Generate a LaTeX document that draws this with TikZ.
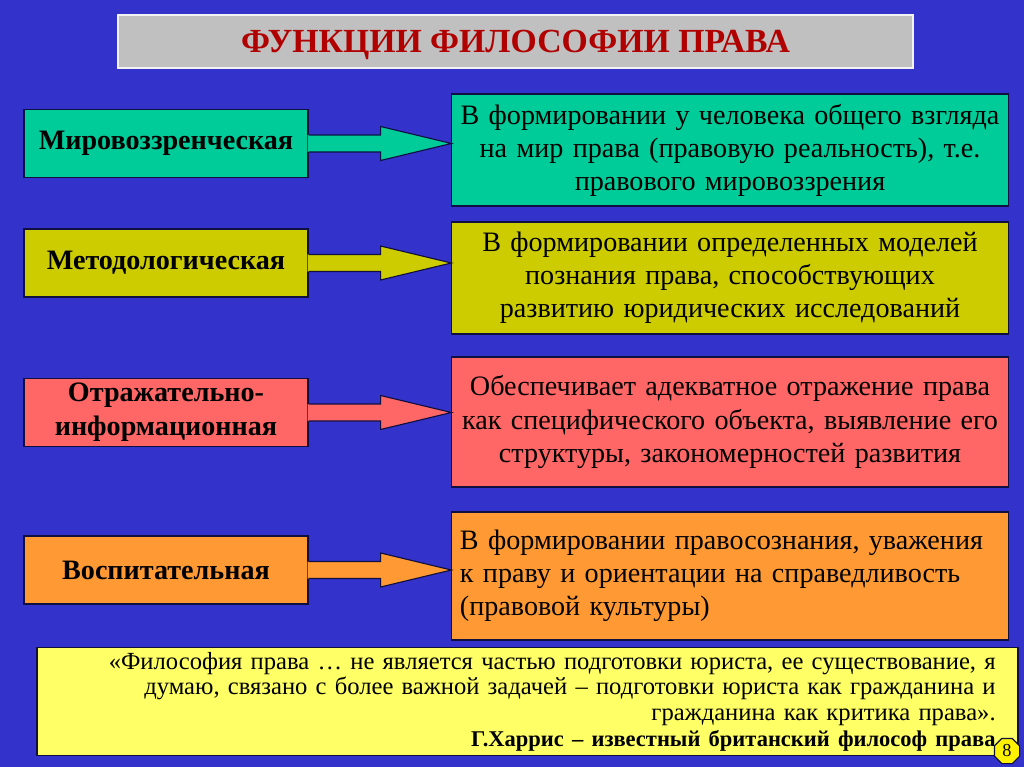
\documentclass[tikz,border=0pt]{standalone}
\usepackage{fontspec}
\setmainfont{Liberation Serif}
\usepackage{tikz}
\usetikzlibrary{calc,shapes.geometric}

\definecolor{bgblue}{HTML}{3333CC}
\definecolor{titlegray}{HTML}{C0C0C0}
\definecolor{titlered}{HTML}{B00000}
\definecolor{functeal}{HTML}{00CC99}
\definecolor{funcolive}{HTML}{CCCC00}
\definecolor{funcpink}{HTML}{FF6666}
\definecolor{funcorange}{HTML}{FF9933}
\definecolor{quoteyellow}{HTML}{FFFF66}
\definecolor{edgedark}{HTML}{101040}

\tikzset{
  funcbox/.style={draw=edgedark, line width=0.8pt, minimum width=7.1cm, minimum height=1.7cm,
    inner sep=2pt, align=center, font=\fontsize{20}{24}\selectfont\bfseries},
  descbox/.style={draw=edgedark, line width=0.8pt, minimum width=13.9cm, text width=13.5cm,
    inner xsep=0.2cm, align=center, font=\fontsize{20}{23.5}\selectfont},
  blockarrow/.style={draw=edgedark, line width=0.8pt, line join=miter}
}

% block arrow from a function box to its description
\newcommand{\funcarrow}[3]{%
  \fill[#3] ($(#1.east)+(-1,-8.5)$) -- ++(73,0) -- ++(0,-8.5) -- (#1.east -| #2.west)
    -- ($(#1.east)+(72,17)$) -- ++(0,-8.5) -- ($(#1.east)+(-1,8.5)$) -- cycle;
  \draw[blockarrow] ($(#1.east)+(0,-8.5)$) -- ++(72,0) -- ++(0,-8.5) -- (#1.east -| #2.west)
    -- ($(#1.east)+(72,17)$) -- ++(0,-8.5) -- ($(#1.east)+(0,8.5)$);}

\begin{document}
\begin{tikzpicture}[x=0.025cm, y=-0.025cm]
  \fill[bgblue] (0,0) rectangle (1024,767);
  \useasboundingbox (0,0) rectangle (1024,767);

  \node[fill=titlegray, draw=white!80!titlegray, line width=1.2pt, minimum width=19.875cm,
    minimum height=1.325cm, text depth=0pt, text=titlered, font=\fontsize{24}{28}\selectfont\bfseries]
    (title) at (515.5,41.5) {ФУНКЦИИ ФИЛОСОФИИ ПРАВА};

  % functions
  \node[funcbox, fill=functeal] (m1) at (166,143.5) {Мировоззренческая};
  \node[funcbox, fill=funcolive] (m2) at (166,263) {Методологическая};
  \node[funcbox, fill=funcpink] (m3) at (166,412.5) {Отражательно-\\информационная};
  \node[funcbox, fill=funcorange] (m4) at (166,570) {Воспитательная};

  % descriptions
  \node[descbox, fill=functeal, minimum height=2.8cm] (d1) at (730,150)
    {В формировании у человека общего взгляда\\на мир права (правовую реальность), т.е.\\правового мировоззрения};
  \node[descbox, fill=funcolive, minimum height=2.8cm] (d2) at (730,278)
    {В формировании определенных моделей\\познания права, способствующих\\развитию юридических исследований};
  \node[descbox, fill=funcpink, minimum height=3.25cm] (d3) at (730,422)
    {Обеспечивает адекватное отражение права\\как специфического объекта, выявление его\\структуры, закономерностей развития};
  \node[descbox, fill=funcorange, minimum height=3.2cm, align=left] (d4) at (730,576)
    {В формировании правосознания, уважения\\к праву и ориентации на справедливость\\(правовой культуры)};

  \funcarrow{m1}{d1}{functeal}
  \funcarrow{m2}{d2}{funcolive}
  \funcarrow{m3}{d3}{funcpink}
  \funcarrow{m4}{d4}{funcorange}

  % quotation
  \node[fill=quoteyellow, draw=edgedark, line width=1.2pt, minimum width=24.525cm,
    minimum height=2.625cm, text width=23.4cm, inner xsep=0.55cm, align=right,
    font=\fontsize{17.5}{18.2}\selectfont] (quote) at (527.5,701.5)
    {«Философия права … не является частью подготовки юриста, ее существование, я\\
     думаю, связано с более важной задачей – подготовки юриста как гражданина и\\
     гражданина как критика права».\\
     {\fontsize{16}{18.2}\selectfont\bfseries Г.Харрис – известный британский философ права}};

  \node[regular polygon, regular polygon sides=8, fill=yellow, draw=edgedark, line width=0.8pt,
    minimum size=0.68cm, inner sep=0pt, font=\fontsize{13}{15}\selectfont] (page) at (1007,751) {8};
\end{tikzpicture}
\end{document}
